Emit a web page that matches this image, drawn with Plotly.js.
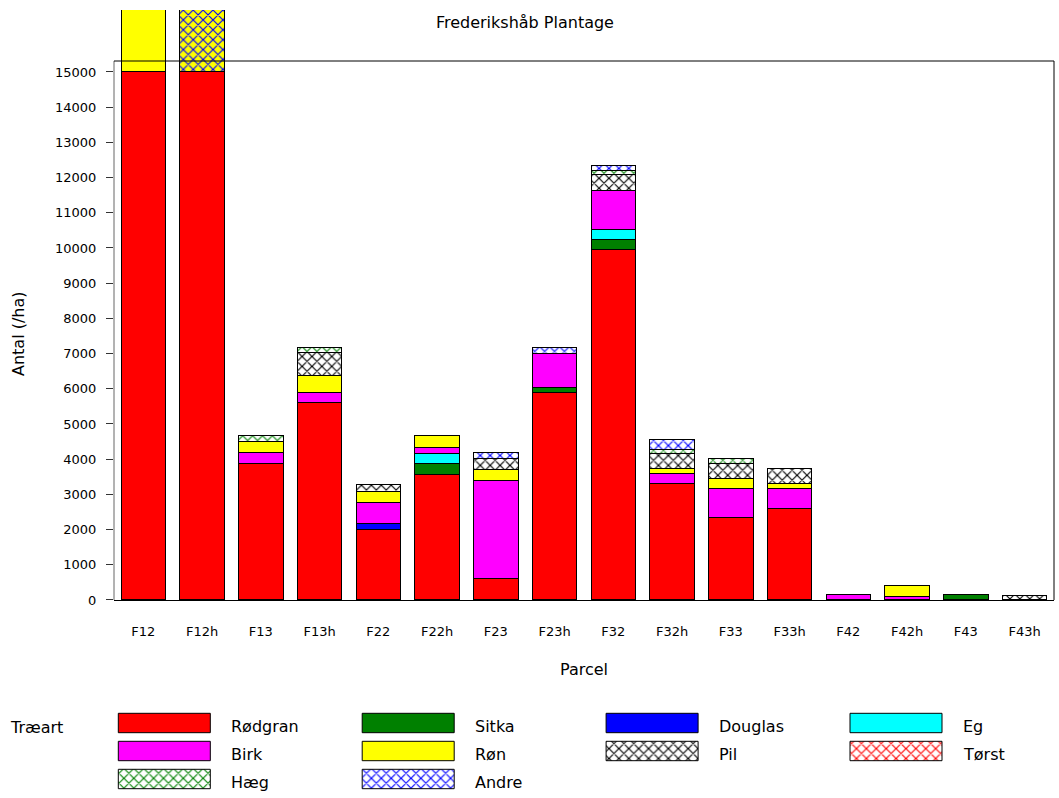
<!DOCTYPE html>
<html>
<head>
<meta charset="utf-8">
<script src="https://cdn.plot.ly/plotly-3.0.1.min.js"></script>
<style>html,body{margin:0;padding:0;background:#fff;}#chart{width:1059px;height:798px;}</style>
</head>
<body>
<div id="chart"></div>
<script>
// ---- data ----
var parcels = ['F12','F12h','F13','F13h','F22','F22h','F23','F23h','F32','F32h','F33','F33h','F42','F42h','F43','F43h'];
var rodgran = [15000,15000,3880,5600,2000,3560,600,5900,9970,3300,2340,2600,0,0,0,0];
var sitka   = [0,0,0,0,0,310,0,150,270,0,0,0,0,0,170,0];
var douglas = [0,0,0,0,160,0,0,0,0,0,0,0,0,0,0,0];
var eg      = [0,0,0,0,0,300,0,0,285,0,0,0,0,0,0,0];
var birk    = [0,0,310,300,620,170,2800,960,1110,280,820,560,170,110,0,0];
var ron     = [3000,0,310,470,300,320,310,0,0,150,290,150,0,300,0,0];
var pil     = [0,0,0,650,200,0,300,0,440,420,420,430,0,0,0,140];
var torst   = [0,0,0,0,0,0,0,0,0,0,0,0,0,0,0,0];
var haeg    = [0,0,180,150,0,0,0,0,130,130,160,0,0,0,0,0];
var andre   = [0,3000,0,0,0,0,180,170,150,290,0,0,0,0,0,0];
var yTicks  = [0,1000,2000,3000,4000,5000,6000,7000,8000,9000,10000,11000,12000,13000,14000,15000];

var seriesNames  = ['Rødgran','Sitka','Douglas','Eg','Birk','Røn','Pil','Tørst','Hæg','Andre'];
var seriesValues = [rodgran, sitka, douglas, eg, birk, ron, pil, torst, haeg, andre];

// ---- styles ----
var FONT = 'DejaVu Sans';
var styles = [
  {color:'#FF0000'},
  {color:'#008000'},
  {color:'#0000FF'},
  {color:'#00FFFF'},
  {color:'#FF00FF'},
  {color:'#FFFF00'},
  {pattern:'#000000', bg:'#FFFFFF'},
  {pattern:'#FF0000', bg:'#FFFFFF'},
  {pattern:'#008000', bg:'#FFFFFF'},
  {pattern:'#0000FF', bg:parcels.map(function(p){return p==='F12h' ? '#FFFF00' : '#FFFFFF';})}
];
var PAT_SIZE = 7, PAT_SOLID = 0.3;

var traces = [];
seriesNames.forEach(function(name, i){
  var st = styles[i];
  var marker = {line:{color:'#000000', width:1}};
  if (st.pattern) {
    marker.color = '#FFFFFF';
    marker.pattern = {shape:'x', fgcolor:st.pattern, bgcolor:st.bg, size:PAT_SIZE, solidity:PAT_SOLID, fillmode:'replace'};
  } else {
    marker.color = st.color;
  }
  traces.push({type:'bar', name:name, x:parcels, y:seriesValues[i], marker:marker,
               xaxis:'x', yaxis:'y', showlegend:false, hoverinfo:'x+y+name'});
});

// ---- custom legend (4 columns of wide swatches) ----
var SW_W = 0.3772, SW_H = 0.693, TXT_OFF = 0.4551;
var annotations = [];
seriesNames.forEach(function(name, i){
  var st = styles[i];
  var c = i % 4, r = Math.floor(i / 4);
  var x0 = c, x1 = c + SW_W, y0 = r - SW_H/2, y1 = r + SW_H/2;
  var tr = {type:'scatter', mode:'lines', x:[x0,x1,x1,x0,x0], y:[y0,y0,y1,y1,y0],
            fill:'toself', line:{color:'#000000', width:1}, xaxis:'x2', yaxis:'y2',
            showlegend:false, hoverinfo:'skip'};
  if (st.pattern) {
    tr.fillcolor = '#FFFFFF';
    tr.fillpattern = {shape:'x', fgcolor:st.pattern, bgcolor:'#FFFFFF', size:PAT_SIZE, solidity:PAT_SOLID};
  } else {
    tr.fillcolor = st.color;
  }
  traces.push(tr);
  annotations.push({xref:'x2', yref:'y2', x:c + TXT_OFF, y:r, yshift:-4, text:name, showarrow:false,
                    xanchor:'left', yanchor:'middle', font:{family:FONT, size:16, color:'#000'}});
});
annotations.push({xref:'paper', yref:'paper', x:-0.1128, y:0.0843, yshift:-1, text:'Træart', showarrow:false,
                  xanchor:'left', yanchor:'middle', font:{family:FONT, size:16, color:'#000'}});
// y axis title, centred on the framed part of the axis
annotations.push({xref:'paper', yref:'paper', x:-0.1021, y:0.5862, text:'Antal (/ha)', textangle:-90,
                  showarrow:false, xanchor:'center', yanchor:'middle', font:{family:FONT, size:16, color:'#000'}});

var FRAME_TOP = 15312;
var layout = {
  width:1059, height:798,
  margin:{l:114, r:5, t:10, b:5},
  paper_bgcolor:'#FFFFFF', plot_bgcolor:'#FFFFFF',
  font:{family:FONT, color:'#000000'},
  barmode:'stack', bargap:0.243,
  title:{text:'Frederikshåb Plantage', x:0.4957, xref:'container', xanchor:'center',
         y:0.9724, yref:'container', yanchor:'middle', font:{family:FONT, size:16, color:'#000'}},
  xaxis:{domain:[0,1], anchor:'y', type:'category', showline:true, linecolor:'#000', linewidth:1,
         ticks:'', showgrid:false, zeroline:false, ticklabelstandoff:19,
         tickfont:{family:FONT, size:13, color:'#000'},
         title:{text:'Parcel', standoff:26, font:{family:FONT, size:16, color:'#000'}}},
  yaxis:{domain:[0.2465,1], anchor:'x', range:[0,16761], tickvals:yTicks, ticktext:yTicks.map(String),
         ticks:'outside', ticklen:7, tickcolor:'#333', showline:false, showgrid:false, zeroline:false,
         ticklabelstandoff:7, tickfont:{family:FONT, size:13, color:'#000'}},
  xaxis2:{domain:[0,1], anchor:'y2', range:[-0.01763, 3.8364], visible:false, fixedrange:true},
  yaxis2:{domain:[0,0.10728], anchor:'x2', range:[2.5,-0.5], visible:false, fixedrange:true},
  shapes:[
    {type:'line', xref:'x domain', yref:'y', x0:0, x1:0, y0:0, y1:FRAME_TOP, line:{color:'#666', width:1}, layer:'above'},
    {type:'line', xref:'x domain', yref:'y', x0:0, x1:1, y0:FRAME_TOP, y1:FRAME_TOP, line:{color:'#000', width:1}, layer:'above'},
    {type:'line', xref:'x domain', yref:'y', x0:1, x1:1, y0:0, y1:FRAME_TOP, line:{color:'#000', width:1}, layer:'above'}
  ],
  annotations:annotations,
  showlegend:false
};

Plotly.newPlot('chart', traces, layout, {displayModeBar:false, staticPlot:true});
</script>
</body>
</html>
